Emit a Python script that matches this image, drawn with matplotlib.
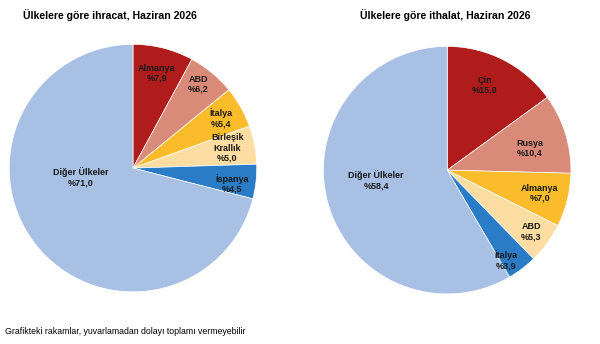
import numpy as np
import matplotlib
matplotlib.use('Agg')
import matplotlib.pyplot as plt

plt.rcParams['font.family'] = ['Liberation Sans', 'DejaVu Sans']

exp_labels = ['Almanya', 'ABD', 'İtalya', 'Birleşik\nKrallık', 'İspanya', 'Diğer Ülkeler']
exp_values = [7.9, 6.2, 5.4, 5.0, 4.5, 71.0]
imp_labels = ['Çin', 'Rusya', 'Almanya', 'ABD', 'İtalya', 'Diğer Ülkeler']
imp_values = [15.0, 10.4, 7.0, 5.3, 3.9, 58.4]

colors = ['#B01B1B', '#D98A78', '#FBBC2C', '#FDDDA2', '#2A7CC6', '#A7C0E4']

# label placement (radius fraction, angle override or None)
exp_pos = [(0.79, None), (0.86, 52), (0.82, None), (0.78, 12), (0.81, -9), (0.43, 190)]
imp_pos = [(0.75, 66), (0.69, 15), (0.77, None), (0.84, None), (0.87, -57), (0.58, 188)]


def draw(ax, labels, values, pos):
    wedges, _ = ax.pie(values, colors=colors, startangle=90, counterclock=False,
                       radius=1, wedgeprops=dict(edgecolor='white', linewidth=0.5))
    for w, lab, v, (d, ang) in zip(wedges, labels, values, pos):
        if ang is None:
            ang = (w.theta1 + w.theta2) / 2
        a = np.deg2rad(ang)
        txt = f'{lab}\n%{v:.1f}'.replace('.', ',')
        ax.text(d * np.cos(a), d * np.sin(a), txt, ha='center', va='center',
                fontsize=6.5, fontweight='bold', color='#1a1a1a', linespacing=1.15)
    ax.set_xlim(-1.01, 1.01)
    ax.set_ylim(-1.01, 1.01)
    ax.set_aspect('equal')
    ax.axis('off')


fig = plt.figure(figsize=(6, 3.44), dpi=100)
ax1 = fig.add_axes([0.0133, 0.148, 0.4167, 0.7267])
ax2 = fig.add_axes([0.537, 0.142, 0.4167, 0.7267])
draw(ax1, exp_labels, exp_values, exp_pos)
draw(ax2, imp_labels, imp_values, imp_pos)

fig.text(0.184, 0.955, 'Ülkelere göre ihracat, Haziran 2026', ha='center', va='center',
         fontsize=7.6, fontweight='bold')
fig.text(0.742, 0.955, 'Ülkelere göre ithalat, Haziran 2026', ha='center', va='center',
         fontsize=7.6, fontweight='bold')
fig.text(0.008, 0.035, 'Grafikteki rakamlar, yuvarlamadan dolayı toplamı vermeyebilir',
         ha='left', va='center', fontsize=6.3)

fig.savefig('out.png', dpi=100)
